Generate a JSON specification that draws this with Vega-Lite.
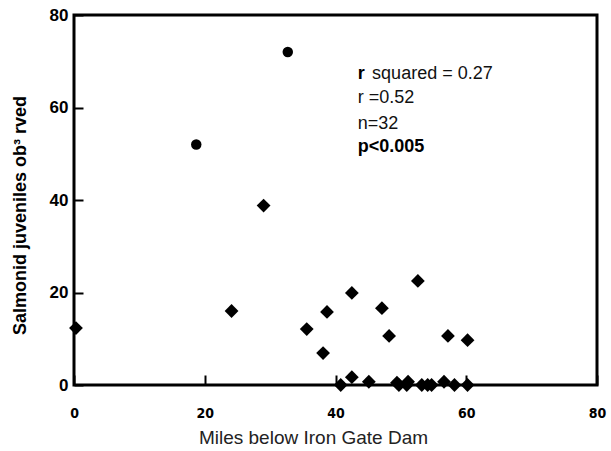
{
  "$schema": "https://vega.github.io/schema/vega-lite/v6.json",
  "width": 523,
  "height": 370,
  "autosize": {"type": "none"},
  "padding": {"left": 74, "top": 15, "right": 14, "bottom": 66},
  "background": "white",
  "config": {
    "view": {"stroke": "black", "strokeWidth": 3},
    "font": "Liberation Sans"
  },
  "datasets": {
    "pts": [
      {"miles": 18.7, "count": 52, "shape": "circle"},
      {"miles": 32.7, "count": 72, "shape": "circle"},
      {"miles": 0.3, "count": 12.3, "shape": "diamond"},
      {"miles": 24.1, "count": 16, "shape": "diamond"},
      {"miles": 29.0, "count": 38.8, "shape": "diamond"},
      {"miles": 35.6, "count": 12.1, "shape": "diamond"},
      {"miles": 38.1, "count": 6.9, "shape": "diamond"},
      {"miles": 38.7, "count": 15.8, "shape": "diamond"},
      {"miles": 42.5, "count": 19.9, "shape": "diamond"},
      {"miles": 47.1, "count": 16.6, "shape": "diamond"},
      {"miles": 48.2, "count": 10.6, "shape": "diamond"},
      {"miles": 52.6, "count": 22.5, "shape": "diamond"},
      {"miles": 57.2, "count": 10.6, "shape": "diamond"},
      {"miles": 60.2, "count": 9.7, "shape": "diamond"},
      {"miles": 42.5, "count": 1.7, "shape": "diamond"},
      {"miles": 40.8, "count": 0, "shape": "diamond"},
      {"miles": 45.1, "count": 0.7, "shape": "diamond"},
      {"miles": 49.4, "count": 0.5, "shape": "diamond"},
      {"miles": 49.7, "count": 0, "shape": "diamond"},
      {"miles": 51.1, "count": 0.7, "shape": "diamond"},
      {"miles": 50.9, "count": 0, "shape": "diamond"},
      {"miles": 53.2, "count": 0, "shape": "diamond"},
      {"miles": 54.1, "count": 0, "shape": "diamond"},
      {"miles": 54.7, "count": 0, "shape": "diamond"},
      {"miles": 56.6, "count": 0.7, "shape": "diamond"},
      {"miles": 58.2, "count": 0, "shape": "diamond"},
      {"miles": 60.2, "count": 0, "shape": "diamond"}
    ],
    "notes": [
      {"miles": 43.4, "count": 66.2, "label": "r", "bold": true},
      {"miles": 45.6, "count": 66.2, "label": "squared = 0.27", "bold": false},
      {"miles": 43.4, "count": 61.0, "label": "r =0.52", "bold": false},
      {"miles": 43.4, "count": 55.4, "label": "n=32", "bold": false},
      {"miles": 43.4, "count": 50.4, "label": "p<0.005", "bold": true}
    ]
  },
  "encoding": {
    "x": {
      "field": "miles", "type": "quantitative",
      "scale": {"domain": [0, 80], "nice": false, "zero": false},
      "axis": {
        "values": [0, 20, 40, 60, 80],
        "grid": false, "domain": false,
        "tickSize": -10, "tickWidth": 2, "tickColor": "black",
        "labelPadding": 31,
        "labelFont": "DejaVu Sans Condensed", "labelFontWeight": "bold",
        "labelFontSize": 14, "labelColor": "black",
        "labelFlush": false,
        "title": "Miles below Iron Gate Dam",
        "titleFont": "Liberation Sans", "titleFontWeight": "normal",
        "titleFontSize": 19, "titleColor": "#222",
        "titleX": 239, "titleY": 58, "titleAnchor": "middle", "titleBaseline": "alphabetic"
      }
    },
    "y": {
      "field": "count", "type": "quantitative",
      "scale": {"domain": [0, 80], "nice": false, "zero": false},
      "axis": {
        "values": [0, 20, 40, 60, 80],
        "grid": false, "domain": false,
        "tickSize": -9, "tickWidth": 2, "tickColor": "black",
        "labelPadding": 15,
        "labelFont": "Liberation Sans", "labelFontWeight": "bold",
        "labelFontSize": 17, "labelColor": "black",
        "labelFlush": false,
        "title": "Salmonid juveniles ob³ rved",
        "titleFont": "Liberation Sans", "titleFontWeight": "bold",
        "titleFontSize": 18, "titleColor": "black",
        "titleX": -54, "titleY": 200, "titleAngle": -90,
        "titleAlign": "center", "titleBaseline": "middle"
      }
    }
  },
  "layer": [
    {
      "data": {"name": "pts"},
      "transform": [{"filter": "datum.shape === 'diamond'"}],
      "mark": {"type": "point", "shape": "diamond", "filled": true, "color": "black", "opacity": 1, "size": 190}
    },
    {
      "data": {"name": "pts"},
      "transform": [{"filter": "datum.shape === 'circle'"}],
      "mark": {"type": "point", "shape": "circle", "filled": true, "color": "black", "opacity": 1, "size": 110}
    },
    {
      "data": {"name": "notes"},
      "transform": [{"filter": "!datum.bold"}],
      "mark": {"type": "text", "align": "left", "baseline": "alphabetic", "fontSize": 18, "font": "Liberation Sans", "color": "#111"},
      "encoding": {"text": {"field": "label"}}
    },
    {
      "data": {"name": "notes"},
      "transform": [{"filter": "datum.bold"}],
      "mark": {"type": "text", "align": "left", "baseline": "alphabetic", "fontSize": 18, "fontWeight": "bold", "font": "Liberation Sans", "color": "black"},
      "encoding": {"text": {"field": "label"}}
    }
  ]
}
